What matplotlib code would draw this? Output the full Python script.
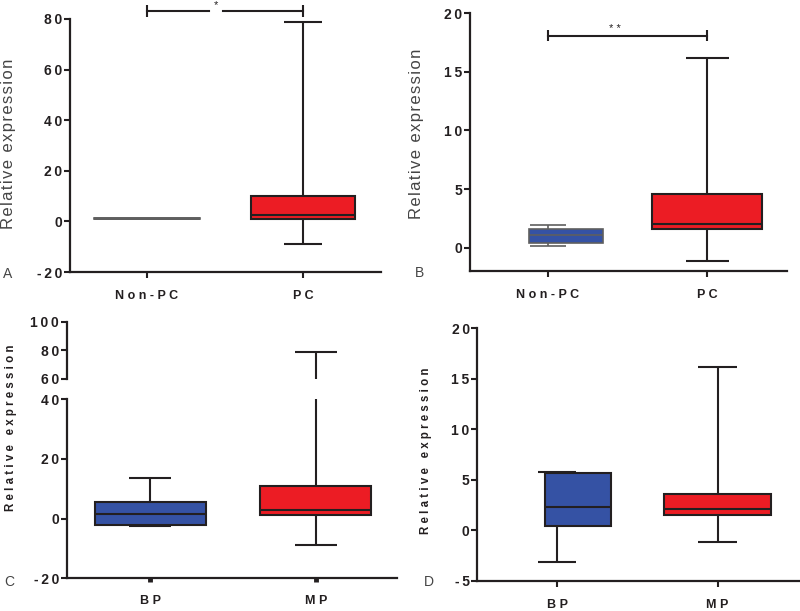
import matplotlib
matplotlib.use("Agg")
import matplotlib.pyplot as plt

plt.rcParams["font.family"] = ["Liberation Sans", "DejaVu Sans"]

# ---- data ----
groups_ab = ["Non-PC", "PC"]
groups_cd = ["BP", "MP"]

# A: box stats  [non-PC, PC]
a_q1 = [0.85, 1.1]
a_med = [1.0, 2.5]
a_q3 = [1.15, 10.2]
a_lo = [0.85, -9.1]
a_hi = [1.15, 78.7]

# B
b_q1 = [0.4, 1.62]
b_med = [1.1, 2.0]
b_q3 = [1.6, 4.6]
b_lo = [0.12, -1.16]
b_hi = [1.9, 16.2]

# C (broken axis)
c_q1 = [-2.25, 1.3]
c_med = [1.44, 2.8]
c_q3 = [5.57, 10.9]
c_lo = [-2.5, -9.0]
c_hi = [13.5, 78.7]

# D
d_q1 = [0.47, 1.55]
d_med = [2.3, 2.1]
d_q3 = [5.68, 3.6]
d_lo = [-3.13, -1.12]
d_hi = [5.75, 16.2]

RED = "#ec1c24"
BLUE = "#3552a4"
DARK = "#231f20"
GREY = "#5f5f5f"

W, H = 800, 611
fig = plt.figure(figsize=(W / 100, H / 100), dpi=100)


def px_axes(l, r, t, b):
    return fig.add_axes([l / W, 1 - b / H, (r - l) / W, (b - t) / H])


def spaced(s, sep=" "):
    return sep.join(s)


def style(ax, xlim, ylim, yticks, labels=None, xtick_len=4, xtick_w=1.5):
    for s in ["top", "right"]:
        ax.spines[s].set_visible(False)
    for s in ["left", "bottom"]:
        ax.spines[s].set_linewidth(1.6)
        ax.spines[s].set_color(DARK)
    ax.set_xlim(*xlim)
    ax.set_ylim(*ylim)
    ax.set_yticks(yticks)
    ax.set_yticklabels([spaced(str(v), "\u2009") for v in yticks],
                       fontsize=10, fontweight="bold", color=DARK)
    ax.tick_params(axis="y", length=4, width=1.5, pad=1.5, color=DARK)
    if labels is not None:
        ax.set_xticks([0, 1])
        ax.set_xticklabels([spaced(g) for g in labels], fontsize=9,
                           fontweight="bold", color=DARK)
        ax.tick_params(axis="x", length=xtick_len, width=xtick_w, pad=9,
                       color=DARK)
    ax.patch.set_alpha(0)


def box(ax, x, q1, med, q3, lo, hi, fc, ec, width, cap, offset=0.0,
        lw=1.5):
    ax.vlines(x, lo, q1, color=ec, lw=lw, zorder=1)
    ax.vlines(x, q3, hi, color=ec, lw=lw, zorder=1)
    ax.hlines([lo, hi], x - cap / 2, x + cap / 2, color=ec, lw=lw, zorder=1)
    ax.bar(x + offset, q3 - q1, bottom=q1, width=width, color=fc,
           edgecolor=ec, linewidth=lw, zorder=2)
    ax.hlines(med, x + offset - width / 2, x + offset + width / 2,
              color=ec, lw=lw, zorder=3)


# ---------- A ----------
axA = px_axes(70, 381, 19, 272)
style(axA, (-0.494, 1.5), (-20, 80), [-20, 0, 20, 40, 60, 80], groups_ab)
box(axA, 0, a_q1[0], a_med[0], a_q3[0], a_lo[0], a_hi[0], GREY, GREY,
    0.68, 0.68, lw=1.2)
box(axA, 1, a_q1[1], a_med[1], a_q3[1], a_lo[1], a_hi[1], RED, DARK,
    0.667, 0.24)
yb = 83.2
axA.plot([0, 0.4], [yb, yb], color=DARK, lw=1.5, clip_on=False)
axA.plot([0.49, 1.0], [yb, yb], color=DARK, lw=1.5, clip_on=False)
axA.vlines([0, 1], yb - 2.3, yb + 2.3, color=DARK, lw=1.5, clip_on=False)
axA.text(0.445, yb + 0.5, "*", ha="center", va="bottom", fontsize=8,
         color=DARK, clip_on=False)

# ---------- B ----------
axB = px_axes(470, 787, 13.3, 271.1)
style(axB, (-0.49, 1.5), (-2, 20), [0, 5, 10, 15, 20], groups_ab)
box(axB, 0, b_q1[0], b_med[0], b_q3[0], b_lo[0], b_hi[0], BLUE, GREY,
    0.46, 0.23, offset=0.113, lw=1.2)
box(axB, 1, b_q1[1], b_med[1], b_q3[1], b_lo[1], b_hi[1], RED, DARK,
    0.69, 0.27)
yb = 18.1
axB.plot([0, 1], [yb, yb], color=DARK, lw=1.5)
axB.vlines([0, 1], yb - 0.5, yb + 0.5, color=DARK, lw=1.5)
axB.text(0.42, yb + 0.15, "* *", ha="center", va="bottom", fontsize=8,
         color=DARK)

# ---------- C (broken axis) ----------
axC = px_axes(66.7, 397, 399.3, 578.3)
style(axC, (-0.504, 1.49), (-20, 40), [-20, 0, 20, 40], groups_cd,
      xtick_len=3, xtick_w=3.5)
axCt = px_axes(66.7, 397, 321.7, 379)
style(axCt, (-0.504, 1.49), (60, 100), [60, 80, 100])
axCt.spines["bottom"].set_visible(False)
axCt.set_xticks([])
for axc in (axC, axCt):
    box(axc, 0, c_q1[0], c_med[0], c_q3[0], c_lo[0], c_hi[0], BLUE, DARK,
        0.67, 0.25)
    box(axc, 1, c_q1[1], c_med[1], c_q3[1], c_lo[1], c_hi[1], RED, DARK,
        0.67, 0.25)

# ---------- D ----------
axD = px_axes(477.3, 799, 328.3, 581)
style(axD, (-0.497, 1.507), (-5, 20), [-5, 0, 5, 10, 15, 20], groups_cd)
box(axD, 0, d_q1[0], d_med[0], d_q3[0], d_lo[0], d_hi[0], BLUE, DARK,
    0.41, 0.24, offset=0.13)
box(axD, 1, d_q1[1], d_med[1], d_q3[1], d_lo[1], d_hi[1], RED, DARK,
    0.665, 0.24)

# ---------- labels ----------
ylab = spaced("Relative expression", "\u200a")
fig.text(9 / W, 1 - 143.5 / H, ylab, rotation=90, ha="center",
         va="center", fontsize=12, color="#444444")
fig.text(416 / W, 1 - 134 / H, ylab, rotation=90, ha="center",
         va="center", fontsize=12, color="#444444")
fig.text(11 / W, 1 - 427.5 / H, "R e l a t i v e   e x p r e s s i o n",
         rotation=90, ha="center", va="center", fontsize=8.3,
         fontweight="bold", color=DARK)
fig.text(426.5 / W, 1 - 451 / H, "R e l a t i v e   e x p r e s s i o n",
         rotation=90, ha="center", va="center", fontsize=8.3,
         fontweight="bold", color=DARK)

for letter, x, y in [("A", 7.5, 274), ("B", 419, 272.5), ("C", 9, 582.5),
                     ("D", 429, 582)]:
    fig.text(x / W, 1 - y / H, letter, ha="center", va="center",
             fontsize=10, color="#444444")

fig.savefig("out.png", dpi=100)
